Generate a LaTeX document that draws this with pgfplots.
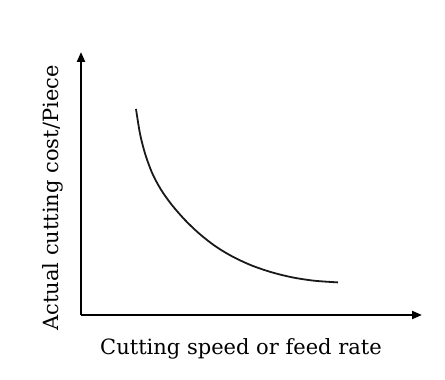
\documentclass[border=0pt]{standalone}
\usepackage{pgfplots}
\pgfplotsset{compat=1.18}
\usepackage{fontspec}
\setmainfont{DejaVu Serif}
\usetikzlibrary{arrows.meta}
\begin{document}
\begin{tikzpicture}[x=1pt,y=1pt]
\begin{axis}[
  x=1pt, y=1pt,
  anchor=south west, at={(81,65)},
  xmin=81, xmax=422, ymin=65, ymax=328,
  axis lines=left,
  axis line style={line width=2.2pt, -{Triangle[length=10pt,width=8pt]}},
  xtick=\empty, ytick=\empty,
  clip=false,
]
\addplot[black!90, line width=1.8pt, smooth, tension=0.5] coordinates {
(136,271) (140,246.3) (145,226.6) (152,207.3) (161,190.3) (172,174.9) (185,160.0) (199,146.6) (215,134.0) (232,123.7) (251,114.8) (271,107.9) (292,102.7) (314,99.3) (338,97.6)
};
\end{axis}
\node[font=\fontsize{21}{25}\selectfont, anchor=base] at (241,25) {Cutting speed or feed rate};
\node[font=\fontsize{21}{25}\selectfont, rotate=90, anchor=base] at (58,182) {Actual cutting cost/Piece};
\pgfresetboundingbox
\useasboundingbox (0,0) rectangle (445,380);
\end{tikzpicture}
\end{document}
